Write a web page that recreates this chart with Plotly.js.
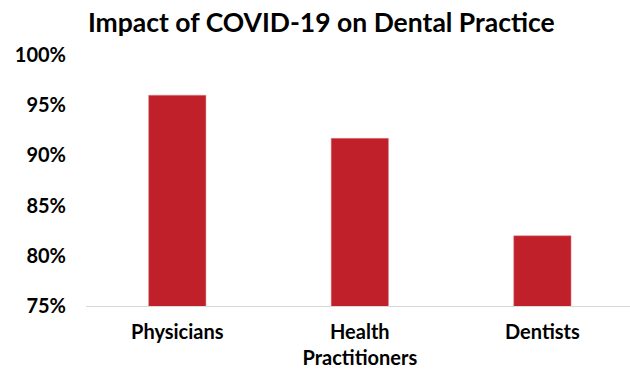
<!DOCTYPE html>
<html>
<head>
<meta charset="utf-8">
<script src="https://cdn.plot.ly/plotly-3.0.1.min.js"></script>
<style>html,body{margin:0;padding:0;background:#fff;}#chart{width:630px;height:372px;}</style>
</head>
<body>
<div id="chart"></div>
<script>
const categories = ["Physicians", "Health<br>Practitioners", "Dentists"];
const values = [0.96, 0.917, 0.82];
const tickVals = [0.75, 0.80, 0.85, 0.90, 0.95, 1.00];
const tickText = ["75%", "80%", "85%", "90%", "95%", "100%"];

const trace = {
  type: "bar",
  x: categories,
  y: values,
  marker: {color: "#C0202A", line: {color: "#E38A8F", width: 0.5}},
  hoverinfo: "skip"
};

const layout = {
  width: 630,
  height: 372,
  margin: {l: 86, r: 0, t: 55, b: 66},
  paper_bgcolor: "#ffffff",
  plot_bgcolor: "#ffffff",
  title: {
    text: "<b>Impact of COVID-19 on Dental Practice</b>",
    font: {family: "Lato, 'Open Sans', sans-serif", size: 26.5, color: "#000000"},
    x: 0.51, xanchor: "center", y: 0.94, yanchor: "middle"
  },
  bargap: 0.686,
  xaxis: {
    type: "category",
    range: [-0.5, 2.48],
    showline: true,
    linecolor: "#d9d9d9",
    linewidth: 1,
    showgrid: false,
    ticks: "",
    ticklabelstandoff: 8,
    tickfont: {family: "Lato, 'Open Sans', sans-serif", size: 20, color: "#000000", weight: "bold"},
    fixedrange: true
  },
  yaxis: {
    range: [0.75, 1.0],
    tickvals: tickVals,
    ticktext: tickText,
    showgrid: false,
    zeroline: false,
    showline: false,
    ticks: "",
    ticklen: 0,
    ticklabelstandoff: 19,
    tickfont: {family: "Lato, 'Open Sans', sans-serif", size: 20, color: "#000000", weight: "bold"},
    fixedrange: true
  },
  showlegend: false
};

Plotly.newPlot("chart", [trace], layout, {displayModeBar: false, staticPlot: true});
</script>
</body>
</html>
